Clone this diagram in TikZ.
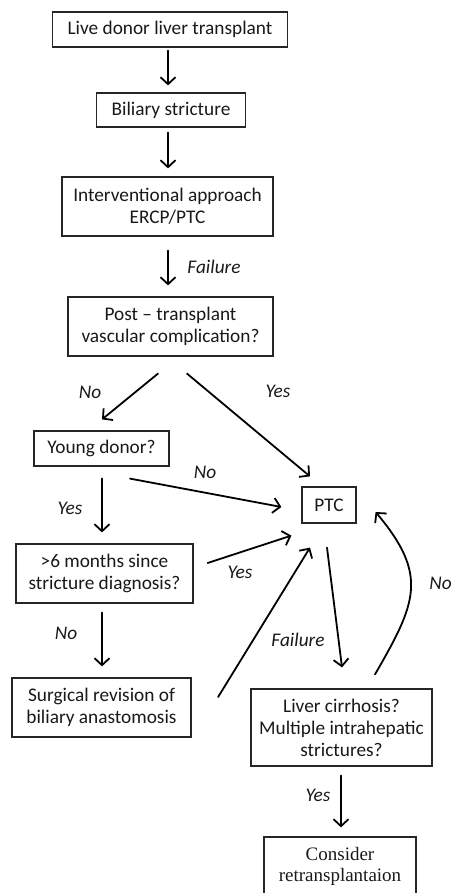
\documentclass[tikz,border=0pt]{standalone}
\usepackage{fontspec}
\setmainfont{Carlito}
\newfontfamily\timesbox{Liberation Serif}
\usetikzlibrary{arrows.meta}

\begin{document}
\begin{tikzpicture}[x=1pt,y=-1pt,line cap=round,>={Straight Barb[length=7pt,width=15pt]},
  box/.style={draw=black!85,line width=1.2pt,align=center,inner sep=0pt,
    font=\fontsize{19.3}{22}\selectfont,text=black!90},
  lbl/.style={font=\fontsize{19.3}{22}\selectfont\itshape,text=black!90,inner sep=0pt},
  arr/.style={->,line width=1.8pt}]
\clip (0,0) rectangle (454,893);

\node [box,minimum width=235pt,minimum height=35pt] (live) at (170,29.5) {Live donor liver transplant};
\node [box,minimum width=149pt,minimum height=34pt] (stricture) at (171,110) {Biliary stricture};
\node [box,minimum width=211pt,minimum height=59pt] (approach) at (167.5,206.5) {Interventional approach\\ERCP/PTC};
\node [box,minimum width=205pt,minimum height=59pt] (vascular) at (170.5,326.5) {Post \textendash\ transplant\\vascular complication?};
\node [box,minimum width=135pt,minimum height=35pt] (young) at (101.5,448.5) {Young donor?};
\node [box,minimum width=54pt,minimum height=36pt] (ptc) at (329,505) {PTC};
\node [box,minimum width=177pt,minimum height=59pt] (months) at (104.5,573.5) {>6 months since\\stricture diagnosis?};
\node [box,minimum width=179pt,minimum height=59pt] (surgery) at (101.5,707.5) {Surgical revision of\\biliary anastomosis};
\node [box,minimum width=181pt,minimum height=77pt] (cirrhosis) at (341.5,727.5) {Liver cirrhosis?\\Multiple intrahepatic\\strictures?};
\node [box,minimum width=152pt,minimum height=58pt,font=\timesbox\fontsize{19}{21}\selectfont] (retx) at (340,866) {Consider\\retransplantaion};

\draw [arr] ([xshift=-2pt,yshift=-3pt]live.south) -- ([xshift=-3pt,yshift=7pt]stricture.north);
\draw [arr] ([xshift=-3pt,yshift=-5pt]stricture.south) -- ([xshift=0.5pt,yshift=8pt]approach.north);
\draw [arr] ([xshift=0.5pt,yshift=-14pt]approach.south) -- ([xshift=-2.5pt,yshift=11pt]vascular.north);
\draw [arr] ([xshift=-12.5pt,yshift=-17pt]vascular.south) -- ([xshift=0.5pt,yshift=11pt]young.north);
\draw [arr] ([xshift=16.5pt,yshift=-17pt]vascular.south) -- ([xshift=-19pt,yshift=10pt]ptc.north);
\draw [arr] ([xshift=28.5pt,yshift=-12pt]young.south) -- ([xshift=-20pt,yshift=-2pt]ptc.west);
\draw [arr] ([xshift=0.5pt,yshift=-12pt]young.south) -- ([xshift=-2.5pt,yshift=11pt]months.north);
\draw [arr] ([xshift=14pt,yshift=10.5pt]months.east) -- ([xshift=-10pt,yshift=-12pt]ptc.south west);
\draw [arr] ([xshift=-2.5pt,yshift=-9pt]months.south) -- ([xshift=0.5pt,yshift=11pt]surgery.north);
\draw [arr] ([xshift=26.5pt,yshift=10.5pt]surgery.east) -- ([xshift=-19pt,yshift=-24pt]ptc.south);
\draw [arr] ([xshift=-2pt,yshift=-24pt]ptc.south) -- ([xshift=0.5pt,yshift=21pt]cirrhosis.north);
\draw [arr] ([xshift=33.5pt,yshift=14pt]cirrhosis.north) to [out=60,in=-50,looseness=1.3] ([xshift=19pt,yshift=-7pt]ptc.east);
\draw [arr] ([xshift=-0.5pt,yshift=-9pt]cirrhosis.south) -- ([xshift=1pt,yshift=9pt]retx.north);

\node [lbl] (fail1) at (214,267) {Failure};
\node [lbl] (no1) at (90,392) {No};
\node [lbl] (yes1) at (278,391) {Yes};
\node [lbl] (no2) at (205,472) {No};
\node [lbl] (yes2) at (70,508) {Yes};
\node [lbl] (yes3) at (240,572) {Yes};
\node [lbl] (no3) at (66,633) {No};
\node [lbl] (fail2) at (298,640) {Failure};
\node [lbl,anchor=east] (no4) at (452,583) {No};
\node [lbl] (yes4) at (318,795) {Yes};

\end{tikzpicture}
\end{document}
